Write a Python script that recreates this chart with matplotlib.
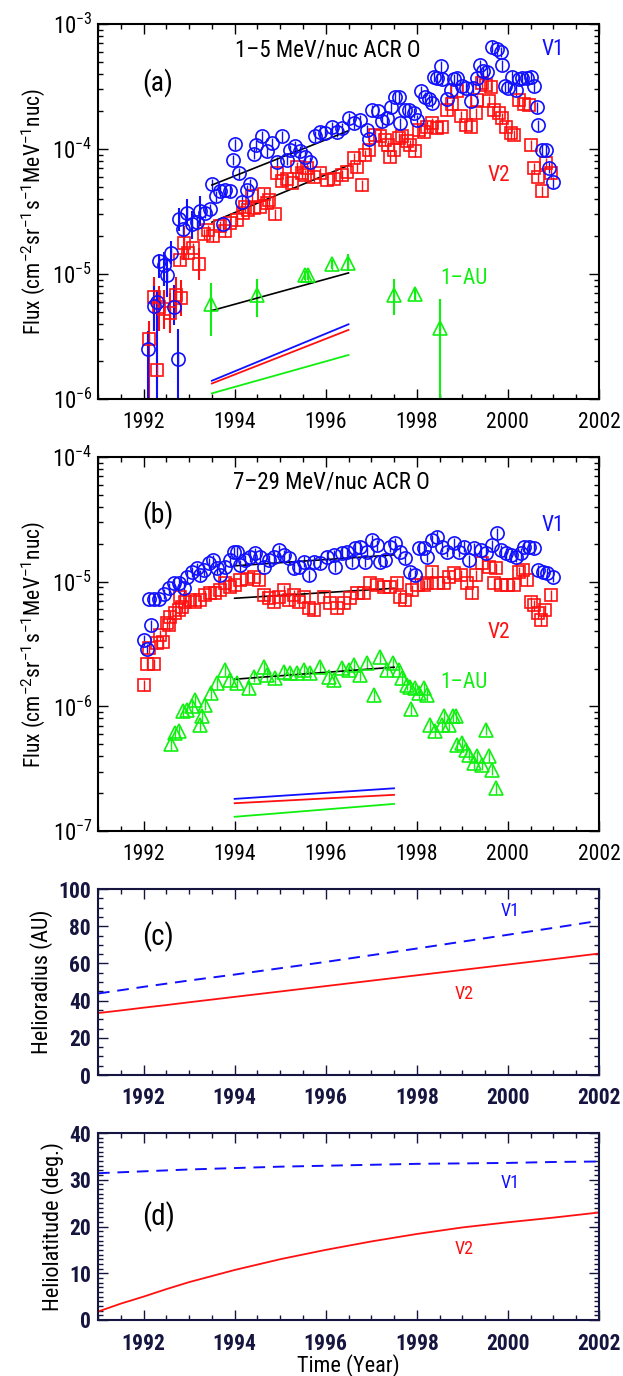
import numpy as np
import matplotlib
matplotlib.use("Agg")
import matplotlib.pyplot as plt
from matplotlib.ticker import MultipleLocator, LogLocator, NullFormatter

plt.rcParams['font.family'] = ['Roboto Condensed', 'DejaVu Sans']
plt.rcParams['mathtext.fontset'] = 'custom'
plt.rcParams['mathtext.rm'] = 'Roboto'
plt.rcParams['mathtext.it'] = 'Roboto:italic'
plt.rcParams['mathtext.bf'] = 'Roboto:bold'

BLUE = '#1010ff'
RED = '#ff1010'
GREEN = '#10f010'
NAVY = '#15153f'

# ---------------- panel (a): 1-5 MeV/nuc ACR O ----------------
v1a_year = [1992.09, 1992.22, 1992.29, 1992.35, 1992.44, 1992.51, 1992.60, 1992.67, 1992.75, 1992.78,
            1992.86, 1992.96, 1993.06, 1993.17, 1993.24, 1993.35, 1993.45, 1993.50, 1993.60, 1993.68,
            1993.74, 1993.79, 1993.90, 1993.96, 1994.00, 1994.09, 1994.16, 1994.27, 1994.34, 1994.42,
            1994.48, 1994.60, 1994.71, 1994.82, 1994.93, 1995.04, 1995.14, 1995.22, 1995.33, 1995.44,
            1995.55, 1995.66, 1995.77, 1995.88, 1995.99, 1996.14, 1996.25, 1996.36, 1996.51, 1996.62,
            1996.76, 1996.91, 1996.95, 1997.02, 1997.15, 1997.24, 1997.35, 1997.44, 1997.53, 1997.61,
            1997.64, 1997.73, 1997.83, 1997.94, 1998.01, 1998.10, 1998.19, 1998.27, 1998.34, 1998.38,
            1998.45, 1998.52, 1998.56, 1998.67, 1998.76, 1998.82, 1998.89, 1999.00, 1999.07, 1999.18,
            1999.24, 1999.33, 1999.38, 1999.46, 1999.55, 1999.66, 1999.77, 1999.84, 1999.86, 1999.93,
            2000.00, 2000.10, 2000.17, 2000.25, 2000.32, 2000.43, 2000.50, 2000.58, 2000.64, 2000.67,
            2000.74, 2000.83, 2000.91, 2000.98]
v1a_flux = [2.5e-6, 5.5e-6, 6.0e-6, 1.26e-5, 1.17e-5, 9.8e-6, 1.48e-5, 5.4e-6, 2.1e-6, 2.75e-5,
            2.3e-5, 3.1e-5, 2.5e-5, 2.6e-5, 3.2e-5, 3.1e-5, 3.3e-5, 5.2e-5, 4.2e-5, 4.6e-5,
            2.5e-5, 4.7e-5, 4.6e-5, 8.2e-5, 1.1e-4, 6.4e-5, 3.8e-5, 4.7e-5, 5.2e-5, 9.2e-5,
            1.08e-4, 1.26e-4, 9.6e-5, 1.12e-4, 7.8e-5, 1.26e-4, 8.2e-5, 9.8e-5, 1.05e-4, 9.6e-5,
            8.7e-5, 7.8e-5, 1.26e-4, 1.38e-4, 1.35e-4, 1.5e-4, 1.38e-4, 1.47e-4, 1.77e-4, 1.62e-4,
            1.7e-4, 1.41e-4, 1.2e-4, 2.05e-4, 2.0e-4, 1.66e-4, 1.77e-4, 2.15e-4, 2.6e-4, 2.6e-4,
            1.6e-4, 2.05e-4, 2.05e-4, 1.95e-4, 1.7e-4, 2.9e-4, 2.6e-4, 2.5e-4, 2.35e-4, 3.8e-4,
            3.7e-4, 4.6e-4, 3.6e-4, 2.5e-4, 2.95e-4, 3.6e-4, 3.7e-4, 3.2e-4, 3.1e-4, 2.4e-4,
            3.1e-4, 3.7e-4, 4.7e-4, 4.2e-4, 4.1e-4, 6.6e-4, 6.3e-4, 6.0e-4, 4.7e-4, 3.2e-4,
            3.1e-4, 3.8e-4, 2.95e-4, 3.6e-4, 3.7e-4, 3.7e-4, 3.8e-4, 3.2e-4, 2.15e-4, 1.55e-4,
            9.8e-5, 9.8e-5, 7.1e-5, 5.4e-5]

v2a_year = [1992.13, 1992.22, 1992.30, 1992.35, 1992.44, 1992.58, 1992.72, 1992.80, 1992.83, 1992.88,
            1992.97, 1993.08, 1993.21, 1993.33, 1993.42, 1993.53, 1993.67, 1993.79, 1993.90, 1994.05,
            1994.18, 1994.23, 1994.30, 1994.38, 1994.43, 1994.56, 1994.64, 1994.71, 1994.75, 1994.89,
            1994.93, 1995.04, 1995.16, 1995.26, 1995.37, 1995.48, 1995.55, 1995.59, 1995.74, 1995.88,
            1996.03, 1996.18, 1996.36, 1996.47, 1996.62, 1996.69, 1996.80, 1996.87, 1996.95, 1997.09,
            1997.20, 1997.31, 1997.36, 1997.42, 1997.50, 1997.61, 1997.68, 1997.78, 1997.86, 1997.97,
            1998.05, 1998.16, 1998.23, 1998.34, 1998.45, 1998.56, 1998.67, 1998.78, 1998.89, 1998.96,
            1999.07, 1999.18, 1999.29, 1999.33, 1999.44, 1999.51, 1999.58, 1999.62, 1999.69, 1999.80,
            1999.88, 1999.95, 2000.06, 2000.13, 2000.25, 2000.36, 2000.47, 2000.50, 2000.58, 2000.65,
            2000.74, 2000.83, 2000.94]
v2a_flux = [3.0e-6, 6.6e-6, 1.7e-6, 5.4e-6, 5.2e-6, 4.9e-6, 6.8e-6, 1.3e-5, 6.4e-6, 1.78e-5,
            1.47e-5, 1.6e-5, 1.2e-5, 2.1e-5, 2.25e-5, 2.0e-5, 2.4e-5, 2.2e-5, 2.55e-5, 2.7e-5,
            3.05e-5, 3.45e-5, 3.25e-5, 4.2e-5, 3.35e-5, 3.45e-5, 4.4e-5, 3.7e-5, 3.9e-5, 3.0e-5,
            6.4e-5, 5.5e-5, 5.8e-5, 5.3e-5, 7.2e-5, 6.4e-5, 6.2e-5, 7.0e-5, 6.0e-5, 6.4e-5,
            5.65e-5, 5.8e-5, 6.2e-5, 6.6e-5, 8.4e-5, 7.2e-5, 5.15e-5, 8.95e-5, 9.8e-5, 1.3e-4,
            1.26e-4, 1.18e-4, 1.08e-4, 8.7e-5, 9.8e-5, 1.22e-4, 1.26e-4, 1.15e-4, 1.08e-4, 9.6e-5,
            1.42e-4, 1.38e-4, 1.51e-4, 1.6e-4, 1.47e-4, 1.51e-4, 2.05e-4, 2.3e-4, 2.9e-4, 1.82e-4,
            1.56e-4, 1.51e-4, 1.93e-4, 2.45e-4, 3.35e-4, 3.25e-4, 2.4e-4, 3.15e-4, 2.05e-4, 1.93e-4,
            1.76e-4, 1.51e-4, 1.34e-4, 1.3e-4, 2.45e-4, 2.3e-4, 2.25e-4, 1.08e-4, 7.0e-5, 6.0e-5,
            4.6e-5, 7.7e-5, 6.4e-5]

au1a_year = [1993.48, 1994.49, 1995.54, 1995.60, 1996.14, 1996.49, 1997.50, 1997.95, 1998.50]
au1a_flux = [5.8e-6, 6.8e-6, 9.8e-6, 9.8e-6, 1.2e-5, 1.22e-5, 6.8e-6, 6.9e-6, 3.7e-6]
au1a_lo = [3.2e-6, 4.5e-6, 9.0e-6, 9.0e-6, 1.1e-5, 1.05e-5, 4.7e-6, 6.2e-6, 1e-8]
au1a_hi = [8.5e-6, 9.1e-6, 1.06e-5, 1.06e-5, 1.3e-5, 1.45e-5, 9.1e-6, 7.6e-6, 6.3e-6]

# large error bars on the early Voyager points (lower end 1e-8 = below axis)
v1a_bar_year = [1992.09, 1992.22, 1992.29, 1992.35, 1992.44, 1992.51, 1992.60, 1992.67, 1992.75,
                1992.78, 1992.96, 1993.06, 1993.24]
v1a_bar_lo = [1e-8, 3.5e-6, 1e-8, 9.3e-6, 8e-6, 6.5e-6, 1.2e-5, 3.9e-6, 1e-8, 2.2e-5, 2.4e-5, 1.9e-5, 2.4e-5]
v1a_bar_hi = [3.5e-6, 8e-6, 7.5e-6, 1.45e-5, 1.5e-5, 1.3e-5, 1.85e-5, 8.2e-6, 3.6e-6, 3.4e-5, 4.0e-5, 3.2e-5, 4.2e-5]
v2a_bar_year = [1992.13, 1992.22, 1992.30, 1992.35, 1992.44, 1992.58, 1992.72, 1992.83, 1992.88, 1993.21]
v2a_bar_lo = [1e-8, 3.5e-6, 1.2e-6, 3.5e-6, 3.6e-6, 3.4e-6, 4.8e-6, 4.6e-6, 1.3e-5, 9e-6]
v2a_bar_hi = [4.2e-6, 9.5e-6, 2.5e-6, 8e-6, 7.5e-6, 7e-6, 9.5e-6, 9e-6, 2.4e-5, 1.6e-5]

# fitted trends (black) and model curves (colour), start/end of fit interval
fit_a_year = [1993.5, 1996.5]
fit_v1a = [5.15e-5, 1.4e-4]
fit_v2a = [2.6e-5, 7.4e-5]
fit_au1a = [5.1e-6, 1.02e-5]
mod_v1a = [1.4e-6, 3.96e-6]
mod_v2a = [1.33e-6, 3.57e-6]
mod_au1a = [1.11e-6, 2.25e-6]

# ---------------- panel (b): 7-29 MeV/nuc ACR O ----------------
v1b_year = [1992.00, 1992.07, 1992.11, 1992.16, 1992.22, 1992.35, 1992.44, 1992.55, 1992.66, 1992.77,
            1992.88, 1992.95, 1993.06, 1993.17, 1993.24, 1993.33, 1993.43, 1993.52, 1993.61, 1993.68,
            1993.79, 1993.90, 1993.98, 1994.06, 1994.12, 1994.23, 1994.34, 1994.45, 1994.56, 1994.64,
            1994.75, 1994.86, 1994.97, 1995.08, 1995.19, 1995.30, 1995.41, 1995.52, 1995.63, 1995.74,
            1995.88, 1996.03, 1996.18, 1996.21, 1996.36, 1996.47, 1996.58, 1996.65, 1996.76, 1996.87,
            1996.91, 1997.02, 1997.13, 1997.20, 1997.31, 1997.42, 1997.53, 1997.64, 1997.75, 1997.86,
            1997.97, 1998.05, 1998.16, 1998.23, 1998.34, 1998.45, 1998.56, 1998.67, 1998.82, 1998.93,
            1999.04, 1999.15, 1999.26, 1999.40, 1999.51, 1999.66, 1999.77, 1999.84, 1999.95, 2000.06,
            2000.17, 2000.28, 2000.36, 2000.47, 2000.58, 2000.65, 2000.76, 2000.86, 2000.98]
v1b_flux = [3.4e-6, 2.9e-6, 7.2e-6, 4.5e-6, 7.2e-6, 7.2e-6, 8.0e-6, 8.9e-6, 9.7e-6, 9.7e-6,
            8.9e-6, 1.1e-5, 1.2e-5, 1.28e-5, 1.13e-5, 1.24e-5, 1.41e-5, 1.49e-5, 1.28e-5, 1.13e-5,
            1.32e-5, 1.49e-5, 1.74e-5, 1.74e-5, 1.36e-5, 1.49e-5, 1.59e-5, 1.69e-5, 1.59e-5, 1.32e-5,
            1.49e-5, 1.59e-5, 1.8e-5, 1.64e-5, 1.54e-5, 1.28e-5, 1.32e-5, 1.45e-5, 1.13e-5, 1.45e-5,
            1.41e-5, 1.59e-5, 1.64e-5, 1.32e-5, 1.69e-5, 1.74e-5, 1.45e-5, 1.85e-5, 1.91e-5, 1.45e-5,
            1.74e-5, 2.16e-5, 1.97e-5, 1.45e-5, 1.49e-5, 1.91e-5, 2.03e-5, 1.74e-5, 1.54e-5, 1.2e-5,
            1.13e-5, 1.85e-5, 1.85e-5, 1.59e-5, 2.16e-5, 2.3e-5, 1.91e-5, 1.74e-5, 2.03e-5, 1.74e-5,
            1.91e-5, 1.49e-5, 1.85e-5, 1.8e-5, 1.69e-5, 1.97e-5, 2.44e-5, 1.8e-5, 1.69e-5, 1.64e-5,
            1.59e-5, 1.69e-5, 1.91e-5, 1.91e-5, 1.85e-5, 1.24e-5, 1.2e-5, 1.17e-5, 1.1e-5]

v2b_year = [1992.01, 1992.07, 1992.11, 1992.23, 1992.29, 1992.36, 1992.42, 1992.51, 1992.55, 1992.58,
            1992.69, 1992.77, 1992.80, 1992.84, 1992.91, 1993.02, 1993.13, 1993.24, 1993.35, 1993.46,
            1993.57, 1993.68, 1993.79, 1993.90, 1994.01, 1994.12, 1994.27, 1994.42, 1994.53, 1994.64,
            1994.75, 1994.86, 1994.97, 1995.08, 1995.19, 1995.30, 1995.41, 1995.52, 1995.63, 1995.74,
            1995.96, 1996.10, 1996.25, 1996.40, 1996.54, 1996.69, 1996.84, 1996.98, 1997.13, 1997.28,
            1997.42, 1997.57, 1997.64, 1997.75, 1997.90, 1998.01, 1998.16, 1998.23, 1998.34, 1998.45,
            1998.60, 1998.71, 1998.82, 1998.96, 1999.11, 1999.22, 1999.29, 1999.44, 1999.59, 1999.70,
            1999.73, 1999.84, 1999.99, 2000.14, 2000.25, 2000.34, 2000.43, 2000.50, 2000.58, 2000.66,
            2000.72, 2000.82, 2000.94]
v2b_flux = [1.47e-6, 2.2e-6, 2.96e-6, 2.18e-6, 3.2e-6, 3.74e-6, 3.3e-6, 4.64e-6, 4.5e-6, 5.24e-6,
            5.58e-6, 5.93e-6, 7.6e-6, 6.3e-6, 6.9e-6, 7.1e-6, 6.9e-6, 7.1e-6, 7.8e-6, 8.1e-6,
            8.1e-6, 8.6e-6, 9.7e-6, 9.1e-6, 9.4e-6, 1.03e-5, 1.06e-5, 1.1e-5, 1.03e-5, 7.8e-6,
            7.4e-6, 6.9e-6, 7.6e-6, 8.6e-6, 7.1e-6, 7.8e-6, 6.9e-6, 7.5e-6, 6.1e-6, 5.9e-6,
            7.6e-6, 6.7e-6, 6.1e-6, 6.7e-6, 7.4e-6, 8.1e-6, 8.1e-6, 9.7e-6, 9.4e-6, 9.1e-6,
            9.1e-6, 9.7e-6, 7.6e-6, 7.1e-6, 8.6e-6, 9.4e-6, 9.4e-6, 9.7e-6, 1.2e-5, 9.7e-6,
            9.7e-6, 1.1e-5, 1.17e-5, 1.13e-5, 9.7e-6, 8.1e-6, 1.13e-5, 1.41e-5, 1.32e-5, 9.7e-6,
            1.28e-5, 9.4e-6, 9.4e-6, 9.4e-6, 1.2e-5, 1.24e-5, 1.03e-5, 6.9e-6, 6.5e-6, 5.6e-6,
            4.9e-6, 5.9e-6, 7.8e-6]

au1b_year = [1992.60, 1992.69, 1992.77, 1992.86, 1992.95, 1993.06, 1993.12, 1993.23, 1993.28, 1993.35,
             1993.48, 1993.61, 1993.79, 1993.90, 1994.05, 1994.31, 1994.42, 1994.64, 1994.71, 1994.89,
             1995.08, 1995.22, 1995.37, 1995.52, 1995.66, 1995.88, 1996.07, 1996.18, 1996.36, 1996.51,
             1996.62, 1996.76, 1996.91, 1997.06, 1997.19, 1997.34, 1997.48, 1997.61, 1997.68, 1997.78,
             1997.86, 1997.88, 1997.97, 1998.05, 1998.16, 1998.23, 1998.30, 1998.41, 1998.56, 1998.60,
             1998.71, 1998.80, 1998.85, 1998.89, 1999.00, 1999.07, 1999.15, 1999.26, 1999.33, 1999.44,
             1999.51, 1999.59, 1999.66, 1999.73]
au1b_flux = [5.0e-7, 6.1e-7, 6.3e-7, 9.1e-7, 9.4e-7, 1.0e-6, 1.13e-6, 7.1e-7, 8.3e-7, 1.03e-6,
             1.27e-6, 1.53e-6, 1.96e-6, 1.63e-6, 1.53e-6, 1.4e-6, 1.73e-6, 2.08e-6, 1.79e-6, 1.68e-6,
             1.9e-6, 1.84e-6, 1.86e-6, 1.96e-6, 1.84e-6, 2.08e-6, 1.71e-6, 1.63e-6, 2.02e-6, 1.96e-6,
             2.15e-6, 1.79e-6, 2.22e-6, 1.23e-6, 2.48e-6, 1.96e-6, 2.22e-6, 1.96e-6, 1.68e-6, 1.49e-6,
             1.44e-6, 9.5e-7, 1.4e-6, 1.27e-6, 1.4e-6, 1.23e-6, 7.1e-7, 6.3e-7, 7.1e-7, 8.3e-7,
             7.1e-7, 8.3e-7, 8.3e-7, 4.9e-7, 5.1e-7, 4.5e-7, 4.1e-7, 3.5e-7, 4.0e-7, 3.4e-7,
             6.5e-7, 4.0e-7, 3.1e-7, 2.2e-7]

fit_b_year = [1994.0, 1997.5]
fit_v1b = [1.34e-5, 1.64e-5]
fit_v2b = [7.36e-6, 8.85e-6]
fit_au1b = [1.65e-6, 2.06e-6]
mod_v1b = [1.81e-7, 2.2e-7]
mod_v2b = [1.67e-7, 1.95e-7]
mod_au1b = [1.30e-7, 1.65e-7]

# ---------------- panels (c), (d): trajectories ----------------
traj_year = [1991, 1991.5, 1992, 1992.5, 1993, 1994, 1995, 1996, 1997, 1998, 1999, 2000, 2001, 2002]
v1_radius = [43.8, 45.6, 47.4, 49.1, 50.8, 54.0, 57.4, 60.8, 64.4, 68.0, 71.7, 75.4, 79.1, 82.9]
v2_radius = [33.3, 34.7, 36.2, 37.6, 39.1, 42.0, 44.9, 47.8, 50.7, 53.6, 56.5, 59.4, 62.3, 65.3]
v1_lat = [31.4, 31.6, 31.8, 32.0, 32.2, 32.5, 32.8, 33.0, 33.2, 33.4, 33.5, 33.6, 33.8, 33.9]
v2_lat = [1.8, 3.5, 5.0, 6.6, 8.1, 10.7, 13.0, 15.0, 16.8, 18.4, 19.8, 20.9, 21.9, 23.0]

FIG_W, FIG_H = 623, 1376


def rect(top, bottom, left=98, right=599):
    return [left / FIG_W, 1 - bottom / FIG_H, (right - left) / FIG_W, (bottom - top) / FIG_H]


def style_axes(ax, color='black', bold=False, ysize=13):
    ax.set_xlim(1991, 2002)
    ax.xaxis.set_major_locator(MultipleLocator(2))
    ax.xaxis.set_minor_locator(MultipleLocator(0.5))
    ax.tick_params(which='both', direction='in', top=True, right=True, color=color, width=1.0)
    ax.tick_params(which='major', length=7)
    ax.tick_params(which='minor', length=3.5)
    ax.tick_params(axis='x', labelsize=15.5, pad=9, labelcolor=color)
    ax.tick_params(axis='y', labelsize=ysize, labelcolor=color)
    for s in ax.spines.values():
        s.set_linewidth(1.5)
        s.set_color(color)
    if bold:
        for lab in ax.get_xticklabels() + ax.get_yticklabels():
            lab.set_fontweight('bold')


def draw_points(ax, years, flux, marker, color, ms):
    flux = np.asarray(flux)
    ax.errorbar(years, flux, yerr=0.1 * flux, fmt=marker, mfc='none', mec=color, ecolor=color,
                ms=ms, mew=1.2, elinewidth=1.0, capsize=0)


def draw_bars(ax, years, lo, hi, color):
    ax.vlines(years, lo, hi, colors=color, lw=1.5)


def flux_panel(ax, ylim):
    ax.set_yscale('log')
    ax.set_ylim(*ylim)
    ax.yaxis.set_major_locator(LogLocator(base=10))
    ax.yaxis.set_minor_locator(LogLocator(base=10, subs=np.arange(2, 10)))
    ax.yaxis.set_minor_formatter(NullFormatter())
    style_axes(ax, ysize=16.5)
    ax.tick_params(axis='y', pad=4)
    ax.set_ylabel(r'Flux (cm$^{-2}$sr$^{-1}$s$^{-1}$MeV$^{-1}$nuc)', fontsize=15.5, labelpad=4)


fig = plt.figure(figsize=(FIG_W / 100, FIG_H / 100), dpi=100)

# (a)
ax = fig.add_axes(rect(24, 399))
flux_panel(ax, (1e-6, 1e-3))
draw_bars(ax, v2a_bar_year, v2a_bar_lo, v2a_bar_hi, RED)
draw_bars(ax, v1a_bar_year, v1a_bar_lo, v1a_bar_hi, BLUE)
draw_points(ax, v2a_year, v2a_flux, 's', RED, 8.5)
draw_points(ax, v1a_year, v1a_flux, 'o', BLUE, 9.5)
draw_bars(ax, au1a_year, au1a_lo, au1a_hi, GREEN)
draw_points(ax, au1a_year, au1a_flux, '^', GREEN, 9.5)
for f in (fit_v1a, fit_v2a, fit_au1a):
    ax.plot(fit_a_year, f, color='black', lw=1.2)
for f, c in ((mod_v1a, BLUE), (mod_v2a, RED), (mod_au1a, GREEN)):
    ax.plot(fit_a_year, f, color=c, lw=1.3)
ax.text(0.274, 0.931, '1–5 MeV/nuc ACR O', transform=ax.transAxes, fontsize=16.5, va='center')
ax.text(0.12, 0.845, '(a)', transform=ax.transAxes, fontsize=20, ha='center', va='center')
ax.text(0.908, 0.931, 'V1', transform=ax.transAxes, fontsize=15.5, color=BLUE, ha='center', va='center')
ax.text(0.80, 0.597, 'V2', transform=ax.transAxes, fontsize=15.5, color=RED, ha='center', va='center')
ax.text(0.684, 0.32, '1–AU', transform=ax.transAxes, fontsize=15.5, color=GREEN, va='center')

# (b)
ax = fig.add_axes(rect(457, 831))
flux_panel(ax, (1e-7, 1e-4))
draw_points(ax, v2b_year, v2b_flux, 's', RED, 8.5)
draw_points(ax, v1b_year, v1b_flux, 'o', BLUE, 9.5)
draw_points(ax, au1b_year, au1b_flux, '^', GREEN, 9.5)
for f in (fit_v1b, fit_v2b, fit_au1b):
    ax.plot(fit_b_year, f, color='black', lw=1.2)
for f, c in ((mod_v1b, BLUE), (mod_v2b, RED), (mod_au1b, GREEN)):
    ax.plot(fit_b_year, f, color=c, lw=1.3)
ax.text(0.27, 0.933, '7–29 MeV/nuc ACR O', transform=ax.transAxes, fontsize=16.5, va='center')
ax.text(0.12, 0.845, '(b)', transform=ax.transAxes, fontsize=20, ha='center', va='center')
ax.text(0.908, 0.818, 'V1', transform=ax.transAxes, fontsize=15.5, color=BLUE, ha='center', va='center')
ax.text(0.80, 0.532, 'V2', transform=ax.transAxes, fontsize=15.5, color=RED, ha='center', va='center')
ax.text(0.684, 0.398, '1–AU', transform=ax.transAxes, fontsize=15.5, color=GREEN, va='center')

# (c)
ax = fig.add_axes(rect(889, 1075))
ax.plot(traj_year, v1_radius, color=BLUE, lw=1.4, dashes=(6, 4))
ax.plot(traj_year, v2_radius, color=RED, lw=1.3)
ax.set_ylim(0, 100)
ax.yaxis.set_major_locator(MultipleLocator(20))
ax.yaxis.set_minor_locator(MultipleLocator(5))
style_axes(ax, color=NAVY, bold=True, ysize=15.5)
ax.tick_params(axis='y', pad=5)
ax.set_ylabel('Helioradius (AU)', fontsize=16)
ax.text(0.12, 0.742, '(c)', transform=ax.transAxes, fontsize=21, ha='center', va='center')
ax.text(0.822, 0.882, 'V1', transform=ax.transAxes, fontsize=13, color=BLUE, ha='center', va='center')
ax.text(0.73, 0.435, 'V2', transform=ax.transAxes, fontsize=13, color=RED, ha='center', va='center')

# (d)
ax = fig.add_axes(rect(1133, 1320))
ax.plot(traj_year, v1_lat, color=BLUE, lw=1.4, dashes=(6, 4))
ax.plot(traj_year, v2_lat, color=RED, lw=1.3)
ax.set_ylim(0, 40)
ax.yaxis.set_major_locator(MultipleLocator(10))
ax.yaxis.set_minor_locator(MultipleLocator(1))
style_axes(ax, color=NAVY, bold=True, ysize=15.5)
ax.tick_params(axis='y', pad=5)
ax.set_ylabel('Heliolatitude (deg.)', fontsize=16)
ax.set_xlabel('Time (Year)', fontsize=16, labelpad=0)
ax.text(0.12, 0.55, '(d)', transform=ax.transAxes, fontsize=21, ha='center', va='center')
ax.text(0.822, 0.733, 'V1', transform=ax.transAxes, fontsize=13, color=BLUE, ha='center', va='center')
ax.text(0.73, 0.38, 'V2', transform=ax.transAxes, fontsize=13, color=RED, ha='center', va='center')

fig.savefig('out.png', dpi=100)
